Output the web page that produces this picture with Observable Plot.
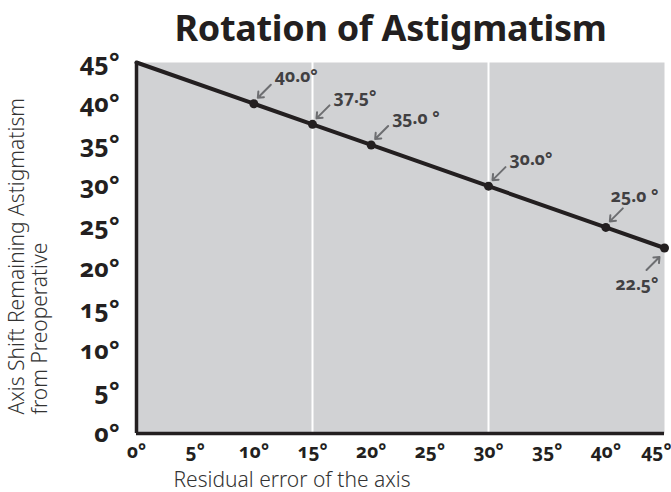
<!DOCTYPE html>
<html><head><meta charset="utf-8">
<script src="https://cdn.jsdelivr.net/npm/d3@7"></script>
<script src="https://cdn.jsdelivr.net/npm/@observablehq/plot@0.6"></script>
<style>
body{margin:0;background:#fff;}
#title{width:671px;height:52px;box-sizing:border-box;padding-left:110px;text-align:center;font-family:"Noto Sans",sans-serif;font-weight:700;font-size:36px;line-height:56px;color:#231f20;letter-spacing:-0.3px;}
#chart svg text{font-feature-settings:"onum" 1;}
</style></head><body>
<div id="title">Rotation of Astigmatism</div>
<div id="chart"></div>
<script>
// data
const residualError = [0, 10, 15, 20, 30, 40, 45];
const axisShift = [45, 40, 37.5, 35, 30, 25, 22.5];
const pointLabels = [null, "40.0°", "37.5°", "35.0 °", "30.0°", "25.0 °", "22.5°"];
const tickValues = [0, 5, 10, 15, 20, 25, 30, 35, 40, 45];
const tickLabels = ["0°", "5°", "10°", "15°", "20°", "25°", "30°", "35°", "40°", "45°"];
const whiteLines = [15, 30];
const yTitle = "Axis Shift Remaining Astigmatism\nfrom Preoperative";
const xTitle = "Residual error of the axis";

// layout
const W = 671, H = 440;
const mL = 136, mR = 7, mT = 10, mB = 59;
const kx = (W - mL - mR) / 45, ky = (H - mT - mB) / 45;
const ink = "#231f20", grayText = "#414042", arrowGray = "#6d6e71";

const rows = residualError.map((x, i) => ({x, y: axisShift[i], label: pointLabels[i]}));
const pts = rows.filter(d => d.label);
const upRight = pts.filter(d => d.x < 40);
const mid = pts.filter(d => d.x === 40);
const below = pts.filter(d => d.x === 45);
const fmt = d => tickLabels[tickValues.indexOf(d)];
const xTicksMain = tickValues.filter(d => d < 45);
const xTicksEnd = tickValues.filter(d => d === 45);

const arrowOpts = (sx, sy, ex, ey) => ({
  x1: d => d.x + sx / kx, y1: d => d.y - sy / ky,
  x2: d => d.x + ex / kx, y2: d => d.y - ey / ky,
  stroke: arrowGray, strokeWidth: 2, headLength: 9, headAngle: 80
});
const textOpts = {x: "x", y: "y", text: "label", fill: grayText, fontSize: 17.5, fontWeight: 700, textAnchor: "start"};
const xAxisOpts = {tickSize: 0, tickPadding: 11, fontSize: 19, fontWeight: 700, fill: ink, tickFormat: fmt, label: null};

const chart = Plot.plot({
  width: W, height: H,
  marginLeft: mL, marginRight: mR, marginTop: mT, marginBottom: mB,
  style: {fontFamily: "Noto Sans, sans-serif", background: "white", overflow: "visible"},
  x: {domain: [0, 45], label: null},
  y: {domain: [0, 45], label: null},
  marks: [
    Plot.frame({fill: "#d1d2d4", stroke: null}),
    Plot.ruleX(whiteLines, {stroke: "white", strokeWidth: 2}),
    Plot.ruleX([0], {stroke: ink, strokeWidth: 3.5}),
    Plot.ruleY([0], {stroke: ink, strokeWidth: 3.5}),
    Plot.axisY(tickValues, {tickSize: 0, tickPadding: 17, fontSize: 25, fontWeight: 700, fill: ink, tickFormat: fmt, label: null}),
    Plot.axisX(xTicksMain, xAxisOpts),
    Plot.axisX(xTicksEnd, {...xAxisOpts, textAnchor: "end", dx: 7}),
    Plot.line(rows, {x: "x", y: "y", stroke: ink, strokeWidth: 4}),
    Plot.dot(pts, {x: "x", y: "y", r: 4.5, fill: ink}),
    Plot.arrow(upRight, arrowOpts(17, -19, 4, -6)),
    Plot.arrow(mid, arrowOpts(17, -19, 4, -6)),
    Plot.arrow(below, arrowOpts(-18, 22, -5, 9)),
    Plot.text(upRight, {...textOpts, dx: 21, dy: -27}),
    Plot.text(mid, {...textOpts, dx: 5, dy: -31}),
    Plot.text(below, {...textOpts, dx: -6, dy: 36, textAnchor: "end"}),
    Plot.text([yTitle], {frameAnchor: "bottom-left", text: d => d, rotate: -90, textAnchor: "start", lineAnchor: "middle", lineHeight: 1.1, dx: -108, dy: -19, fontSize: 21, fontWeight: 300, fill: "#333"}),
    Plot.text([xTitle], {frameAnchor: "bottom-left", text: d => d, textAnchor: "start", lineAnchor: "middle", dx: 37, dy: 47, fontSize: 21, fontWeight: 300, fill: "#333"})
  ]
});
document.getElementById("chart").append(chart);
</script>
</body></html>
